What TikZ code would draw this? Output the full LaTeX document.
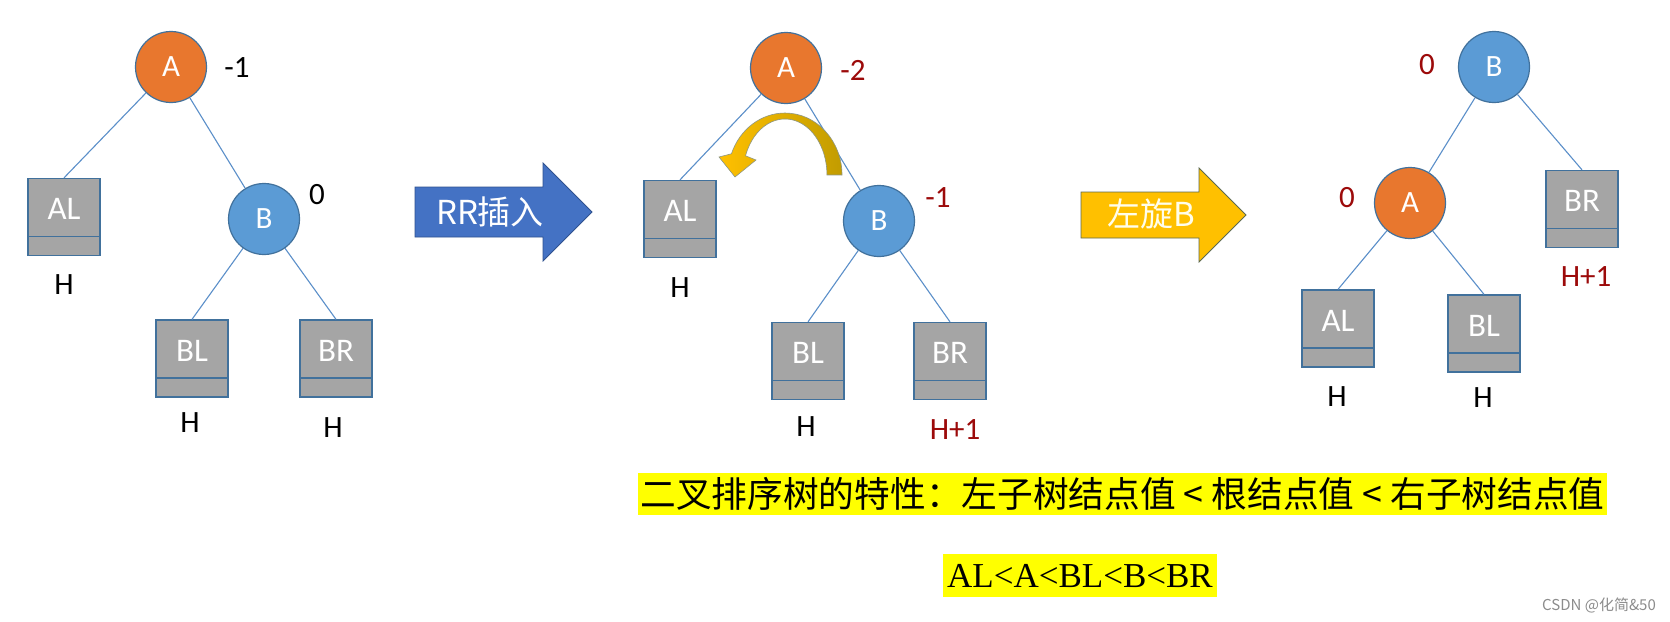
\documentclass[tikz,border=0pt]{standalone}
\usepackage{fontspec}
\setmainfont{Carlito}
\newfontfamily\cjk{Noto Sans CJK SC}
\newfontfamily\tnr{Liberation Serif}

\definecolor{orangeN}{HTML}{E8772E}
\definecolor{blueN}{HTML}{5B9BD5}
\definecolor{nodeEdge}{HTML}{41719C}
\definecolor{boxGray}{HTML}{A5A5A5}
\definecolor{edgeBlue}{HTML}{5B8FC9}
\definecolor{darkRed}{HTML}{9C0A0A}
\definecolor{arrowBlue}{HTML}{4472C4}
\definecolor{arrowBlueEdge}{HTML}{2F528F}
\definecolor{arrowGold}{HTML}{FFC000}
\definecolor{arrowGoldEdge}{HTML}{5E6A50}
\definecolor{goldDark}{HTML}{C29C00}
\definecolor{hlYellow}{HTML}{FFFF00}
\definecolor{wmGray}{HTML}{8C8C8C}

\tikzset{
  circnode/.style={circle, minimum size=71pt, inner sep=0pt, draw=nodeEdge,
    line width=1.2pt, text=white, font=\fontsize{31}{31}\selectfont},
  anode/.style={circnode, fill=orangeN},
  bnode/.style={circnode, fill=blueN},
  tbox/.style={rectangle, minimum width=72pt, minimum height=77pt, inner sep=0pt,
    fill=boxGray, draw=nodeEdge, line width=1.3pt, text=white,
    font=\fontsize{33}{33}\selectfont, text height=21pt, text depth=16pt,
    path picture={\draw[nodeEdge, line width=1.2pt]
      ([yshift=19pt]path picture bounding box.south west) --
      ([yshift=19pt]path picture bounding box.south east);}},
  hlbl/.style={font=\fontsize{31}{31}\selectfont, text=black, inner sep=0pt},
  numlbl/.style={font=\fontsize{31}{31}\selectfont, text=black, inner sep=0pt},
  redlbl/.style={text=darkRed},
  treeline/.style={draw=edgeBlue, line width=1.1pt},
  arrowtxt/.style={font=\cjk\fontsize{33}{33}\selectfont, inner sep=0pt},
}

\begin{document}
\begin{tikzpicture}[x=1pt, y=-1pt]
\useasboundingbox (0,0) rectangle (1670,621);
\fill[white] (0,0) rectangle (1670,621);

% ---------- Tree 1 ----------
\node[anode] (A1) at (171,67) {A};
\node[bnode] (B1) at (264,219) {B};
\node[tbox] (AL1) at (64,217) {AL};
\node[tbox] (BL1) at (192,358.5) {BL};
\node[tbox] (BR1) at (336,358.5) {BR};
\draw[treeline] (A1) -- (AL1.north);
\draw[treeline] (A1) -- (B1);
\draw[treeline] (B1) -- (BL1.north);
\draw[treeline] (B1) -- (BR1.north);
\node[numlbl] (bfA1) at (237,68) {-1};
\node[numlbl] (bfB1) at (317,195) {0};
\node[hlbl] (hAL1) at (64,285) {H};
\node[hlbl] (hBL1) at (190,423) {H};
\node[hlbl] (hBR1) at (333,428) {H};

% ---------- Arrow 1 ----------
\filldraw[fill=arrowBlue, draw=arrowBlueEdge, line width=0.8pt]
  (415,187) -- (543,187) -- (543,163) -- (592,212) -- (543,261) -- (543,237) -- (415,237) -- cycle;
\node[arrowtxt, text=white] (rrtxt) at (490,212) {RR插入};

% ---------- Tree 2 ----------
\node[anode] (A2) at (786,68) {A};
\node[bnode] (B2) at (879,221) {B};
\node[tbox] (AL2) at (680,219) {AL};
\node[tbox] (BL2) at (808,361) {BL};
\node[tbox] (BR2) at (950,361) {BR};
\draw[treeline] (A2) -- (AL2.north);
\draw[treeline] (A2) -- (B2);
\draw[treeline] (B2) -- (BL2.north);
\draw[treeline] (B2) -- (BR2.north);
\node[numlbl, redlbl] (bfA2) at (853,70) {-2};
\node[numlbl, redlbl] (bfB2) at (938,198) {-1};
\node[hlbl] (hAL2) at (680,288) {H};
\node[hlbl] (hBL2) at (806,427) {H};
\node[hlbl, redlbl] (hBR2) at (955,430) {H+1};

% rotation arrow
\path[left color=arrowGold, middle color=arrowGold!85!goldDark, right color=goldDark,
      draw=arrowGoldEdge!70, line width=0.6pt]
  (842,175) arc[start angle=0, end angle=160, x radius=57pt, y radius=62pt]
  -- (719,157) -- (735,177) -- (756,160) -- (745.5,155.8)
  arc[start angle=160, end angle=0, x radius=42pt, y radius=56pt]
  -- cycle;

% ---------- Arrow 2 ----------
\filldraw[fill=arrowGold, draw=arrowGoldEdge, line width=0.8pt]
  (1081,192) -- (1199,192) -- (1199,168) -- (1246,215) -- (1199,262) -- (1199,238) -- (1081,238) -- cycle;
\node[arrowtxt, text=white!92!yellow] (lxtxt) at (1151,214) {左旋B};

% ---------- Tree 3 ----------
\node[bnode] (B3) at (1494,67) {B};
\node[anode] (A3) at (1410,203) {A};
\node[tbox] (BR3) at (1582,209) {BR};
\node[tbox] (AL3) at (1338,328.5) {AL};
\node[tbox] (BL3) at (1484,333.5) {BL};
\draw[treeline] (B3) -- (A3);
\draw[treeline] (B3) -- (BR3.north);
\draw[treeline] (A3) -- (AL3.north);
\draw[treeline] (A3) -- (BL3.north);
\node[numlbl, redlbl] (bfB3) at (1427,65) {0};
\node[numlbl, redlbl] (bfA3) at (1347,198) {0};
\node[hlbl, redlbl] (hBR3) at (1586,277) {H+1};
\node[hlbl] (hAL3) at (1337,397) {H};
\node[hlbl] (hBL3) at (1483,398) {H};

% ---------- Bottom text ----------
\node[fill=hlYellow, minimum width=969pt, minimum height=42pt, inner sep=0pt,
      font=\cjk\fontsize{35.7}{35.7}\selectfont] (prop) at (1122.5,494)
  {二叉排序树的特性：左子树结点值 < 根结点值 < 右子树结点值};
\node[fill=hlYellow, minimum width=274pt, minimum height=43pt, inner sep=0pt,
      font=\tnr\fontsize{35}{35}\selectfont] (order) at (1080,575.5)
  {AL<A<BL<B<BR};
\node[anchor=west, inner sep=0pt, text=wmGray, font=\cjk\fontsize{15}{15}\selectfont]
  (wm) at (1542,605) {CSDN @化简\&50};
\end{tikzpicture}
\end{document}
